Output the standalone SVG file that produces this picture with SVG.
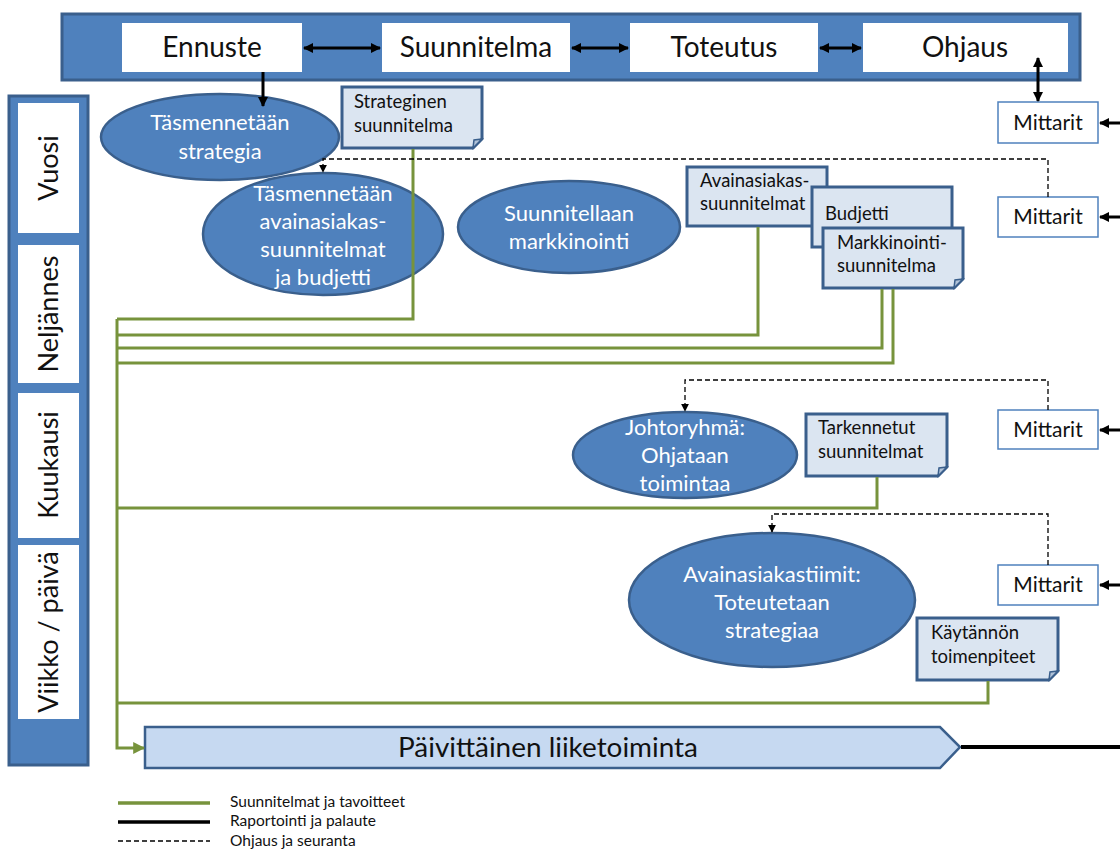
<svg xmlns="http://www.w3.org/2000/svg" width="1120" height="850" viewBox="0 0 1120 850">
  <defs>
    <marker id="ah" viewBox="0 0 10 10" refX="9" refY="5" markerWidth="10" markerHeight="10" markerUnits="userSpaceOnUse" orient="auto-start-reverse">
      <path d="M0,0 L10,5 L0,10 Z" fill="#000"/>
    </marker>
    <marker id="ahs" viewBox="0 0 10 10" refX="9" refY="5" markerWidth="8" markerHeight="8" markerUnits="userSpaceOnUse" orient="auto">
      <path d="M0,0 L10,5 L0,10 Z" fill="#000"/>
    </marker>
    <marker id="ahg" viewBox="0 0 10 10" refX="9" refY="5" markerWidth="12" markerHeight="12" markerUnits="userSpaceOnUse" orient="auto">
      <path d="M0,0 L10,5 L0,10 Z" fill="#77933c"/>
    </marker>
  </defs>
  <style>
    text { font-family: Lato, "Open Sans", "Liberation Sans", sans-serif; }
    .bar { fill: #4f81bd; stroke: #3a5f8c; stroke-width: 3; }
    .wbox { fill: #fff; }
    .ttl { font-size: 28px; fill: #111; text-anchor: middle; }
    .side { font-size: 27px; fill: #111; text-anchor: middle; }
    .ell { fill: #4f81bd; stroke: #3a5f8c; stroke-width: 2.5; }
    .etx { font-size: 22px; fill: #fff; text-anchor: middle; }
    .doc { fill: #dbe5f1; stroke: #3a5f8c; stroke-width: 3; }
    .fold { fill: #b0c2d8; stroke: #3a5f8c; stroke-width: 1.5; }
    .dtx { font-size: 18.5px; fill: #111; }
    .mit { fill: #fff; stroke: #4f81bd; stroke-width: 1.5; }
    .mtx { font-size: 21px; fill: #111; text-anchor: middle; }
    .green { fill: none; stroke: #77933c; stroke-width: 3; }
    .black { fill: none; stroke: #000; stroke-width: 3; }
    .dash { fill: none; stroke: #000; stroke-width: 1.3; stroke-dasharray: 5 3; }
    .leg { font-size: 15.5px; fill: #111; }
  </style>

  <!-- top process bar -->
  <g id="process-bar">
    <rect class="bar" x="62" y="14" width="1018" height="66"/>
    <g id="ennuste"><rect class="wbox" x="122" y="23" width="180" height="49"/><text class="ttl" x="212" y="57">Ennuste</text></g>
    <g id="suunnitelma"><rect class="wbox" x="382" y="23" width="188" height="49"/><text class="ttl" x="476" y="57">Suunnitelma</text></g>
    <g id="toteutus"><rect class="wbox" x="630" y="23" width="188" height="49"/><text class="ttl" x="724" y="57">Toteutus</text></g>
    <g id="ohjaus"><rect class="wbox" x="863" y="23" width="205" height="49"/><text class="ttl" x="965" y="57">Ohjaus</text></g>
  </g>

  <!-- time scale column -->
  <g id="time-scale">
    <rect class="bar" x="9" y="96" width="79" height="669"/>
    <rect class="wbox" x="18" y="103" width="61" height="130"/>
    <rect class="wbox" x="18" y="245" width="61" height="138"/>
    <rect class="wbox" x="18" y="393" width="61" height="145"/>
    <rect class="wbox" x="18" y="545" width="61" height="174"/>
    <text class="side" transform="translate(58,168) rotate(-90)">Vuosi</text>
    <text class="side" transform="translate(58,314) rotate(-90)">Neljännes</text>
    <text class="side" transform="translate(58,465) rotate(-90)">Kuukausi</text>
    <text class="side" transform="translate(58,632) rotate(-90)">Viikko / päivä</text>
  </g>

  <!-- activities -->
  <g id="strategia">
    <ellipse class="ell" cx="220" cy="137" rx="119" ry="43"/>
    <text class="etx" x="220" y="130">Täsmennetään</text>
    <text class="etx" x="220" y="159">strategia</text>
  </g>
  <g id="avainasiakas">
    <ellipse class="ell" cx="323" cy="234" rx="120" ry="61"/>
    <text class="etx" x="323" y="201">Täsmennetään</text>
    <text class="etx" x="323" y="229">avainasiakas-</text>
    <text class="etx" x="323" y="257">suunnitelmat</text>
    <text class="etx" x="323" y="285">ja budjetti</text>
  </g>
  <g id="markkinointi">
    <ellipse class="ell" cx="569" cy="227" rx="111" ry="46"/>
    <text class="etx" x="569" y="221">Suunnitellaan</text>
    <text class="etx" x="569" y="249">markkinointi</text>
  </g>
  <g id="johtoryhma">
    <ellipse class="ell" cx="685" cy="455" rx="112" ry="43"/>
    <text class="etx" x="685" y="435">Johtoryhmä:</text>
    <text class="etx" x="685" y="463">Ohjataan</text>
    <text class="etx" x="685" y="491">toimintaa</text>
  </g>
  <g id="avainasiakastiimit">
    <ellipse class="ell" cx="772" cy="600" rx="143" ry="67"/>
    <text class="etx" x="772" y="582">Avainasiakastiimit:</text>
    <text class="etx" x="772" y="610">Toteutetaan</text>
    <text class="etx" x="772" y="638">strategiaa</text>
  </g>

  <!-- documents -->
  <g id="strateginen-suunnitelma">
    <path class="doc" d="M342,87 H482 V139 L473,148 H342 Z"/>
    <path class="fold" d="M482,139 L473,148 L474,140 Z"/>
    <text class="dtx" x="354" y="108">Strateginen</text>
    <text class="dtx" x="354" y="132">suunnitelma</text>
  </g>
  <g id="avainasiakassuunnitelmat">
    <rect class="doc" x="687" y="167" width="140" height="59"/>
    <text class="dtx" x="700" y="187">Avainasiakas-</text>
    <text class="dtx" x="700" y="210">suunnitelmat</text>
  </g>
  <g id="budjetti">
    <rect class="doc" x="812" y="187" width="140" height="60"/>
    <text class="dtx" x="825" y="220">Budjetti</text>
  </g>
  <g id="markkinointisuunnitelma">
    <path class="doc" d="M823,228 H963 V279 L954,288 H823 Z"/>
    <path class="fold" d="M963,279 L954,288 L955,280 Z"/>
    <text class="dtx" x="837" y="249">Markkinointi-</text>
    <text class="dtx" x="837" y="272">suunnitelma</text>
  </g>
  <g id="tarkennetut">
    <path class="doc" d="M806,414 H947 V467 L938,476 H806 Z"/>
    <path class="fold" d="M947,467 L938,476 L939,468 Z"/>
    <text class="dtx" x="818" y="434">Tarkennetut</text>
    <text class="dtx" x="818" y="458">suunnitelmat</text>
  </g>
  <g id="kaytannon">
    <path class="doc" d="M917,618 H1058 V671 L1049,680 H917 Z"/>
    <path class="fold" d="M1058,671 L1049,680 L1050,672 Z"/>
    <text class="dtx" x="931" y="639">Käytännön</text>
    <text class="dtx" x="931" y="663">toimenpiteet</text>
  </g>

  <!-- metrics -->
  <g id="mittarit-1"><rect class="mit" x="998" y="102" width="100" height="41"/><text class="mtx" x="1048" y="130">Mittarit</text></g>
  <g id="mittarit-2"><rect class="mit" x="998" y="197" width="100" height="40"/><text class="mtx" x="1048" y="224">Mittarit</text></g>
  <g id="mittarit-3"><rect class="mit" x="998" y="410" width="100" height="39"/><text class="mtx" x="1048" y="437">Mittarit</text></g>
  <g id="mittarit-4"><rect class="mit" x="998" y="565" width="100" height="40"/><text class="mtx" x="1048" y="592">Mittarit</text></g>

  <!-- daily operations -->
  <g id="paivittainen">
    <path d="M145,727 H940 L960,747 L940,768 H145 Z" fill="#c6d9f1" stroke="#3a5f8c" stroke-width="2.5"/>
    <text x="548" y="757" font-size="26" fill="#111" text-anchor="middle" textLength="300" lengthAdjust="spacingAndGlyphs">Päivittäinen liiketoiminta</text>
  </g>

  <!-- connectors -->
  <g id="connectors">
    <!-- plans and targets -->
    <path class="green" d="M413,149 V319 H117"/>
    <path class="green" d="M758,227 V335 H117"/>
    <path class="green" d="M882,289 V348 H117"/>
    <path class="green" d="M893,289 V363 H117"/>
    <path class="green" d="M877,477 V508 H117"/>
    <path class="green" d="M988,681 V703 H117"/>
    <path class="green" d="M117,319 V748 H144" marker-end="url(#ahg)"/>
    <!-- top bar links -->
    <path class="black" d="M304,48 H380" marker-start="url(#ah)" marker-end="url(#ah)"/>
    <path class="black" d="M572,48 H628" marker-start="url(#ah)" marker-end="url(#ah)"/>
    <path class="black" d="M820,48 H861" marker-start="url(#ah)" marker-end="url(#ah)"/>
    <path class="black" d="M263,72 V106" marker-end="url(#ah)"/>
    <path class="black" d="M1038,58 V101" marker-start="url(#ah)" marker-end="url(#ah)"/>
    <!-- reporting into metrics -->
    <path class="black" d="M1120,123 H1100" marker-end="url(#ah)"/>
    <path class="black" d="M1120,217 H1100" marker-end="url(#ah)"/>
    <path class="black" d="M1120,430 H1100" marker-end="url(#ah)"/>
    <path class="black" d="M1120,585 H1100" marker-end="url(#ah)"/>
    <path d="M961,747 H1120" fill="none" stroke="#000" stroke-width="4"/>
    <!-- steering and follow-up -->
    <path class="dash" d="M1048,197 V159 H323 V172" marker-end="url(#ahs)"/>
    <path class="dash" d="M1048,410 V380 H685 V411" marker-end="url(#ahs)"/>
    <path class="dash" d="M1048,565 V514 H772 V532" marker-end="url(#ahs)"/>
  </g>

  <!-- legend -->
  <g id="legend">
    <line x1="118" y1="803" x2="210" y2="803" stroke="#77933c" stroke-width="3.5"/>
    <line x1="118" y1="822" x2="210" y2="822" stroke="#000" stroke-width="3.5"/>
    <line x1="118" y1="841" x2="210" y2="841" class="dash"/>
    <text class="leg" x="230" y="807">Suunnitelmat ja tavoitteet</text>
    <text class="leg" x="230" y="826">Raportointi ja palaute</text>
    <text class="leg" x="230" y="846">Ohjaus ja seuranta</text>
  </g>
</svg>
